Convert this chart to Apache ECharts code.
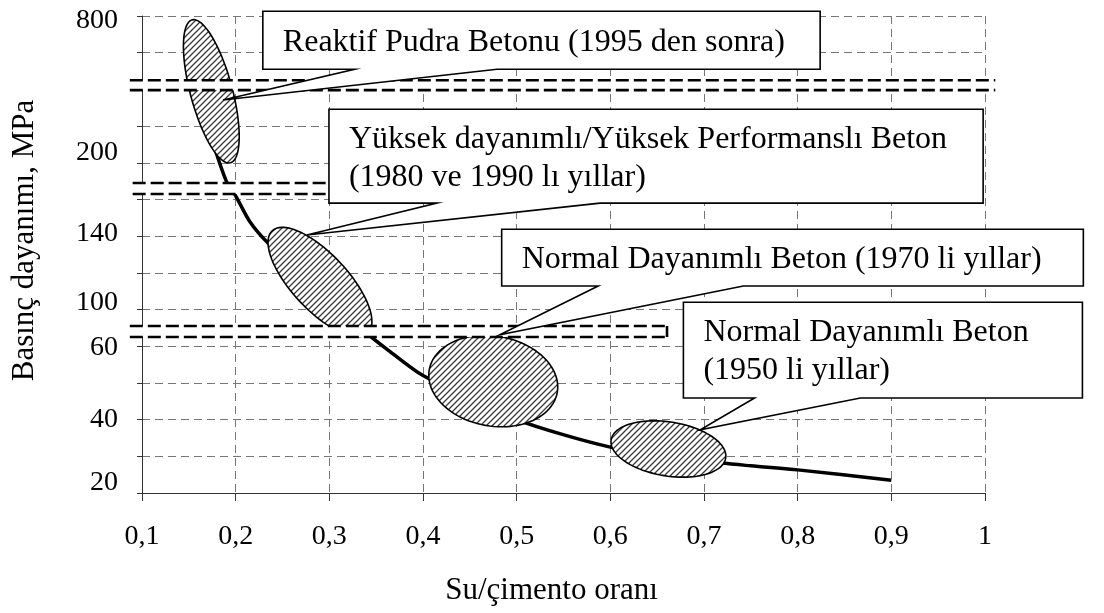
<!DOCTYPE html>
<html lang="tr">
<head>
<meta charset="utf-8">
<title>Su/çimento oranı - Basınç dayanımı</title>
<script src="https://cdn.jsdelivr.net/npm/echarts@6/dist/echarts.min.js"></script>
<style>
    html, body { margin: 0; padding: 0; background: #fff; }
    #chart { width: 1104px; height: 613px; }
</style>
</head>
<body>
<div id="chart"></div>
<script>
    // strength curve: water/cement ratio -> compressive strength (MPa)
    const wcRatio  = [0.175, 0.19, 0.2, 0.215, 0.235, 0.29, 0.345, 0.36, 0.4, 0.5, 0.6, 0.7, 0.75, 0.8, 0.9];
    const strength = [290, 180, 164, 148, 136, 110, 70, 59.5, 52, 40, 32.5, 28.7, 27.4, 26.3, 23.5];

    // y tick labels (MPa) shown on the broken axis
    const yTickValues = [20, 40, 60, 100, 140, 200, 800];

    // concrete classes: centre of each hatched region (w/c, MPa)
    const regionWc  = [0.174, 0.29, 0.475, 0.662];
    const regionMpa = [492, 115, 50.5, 32];

    const calloutText = [
        ['Reaktif Pudra Betonu (1995 den sonra)'],
        ['Yüksek dayanımlı/Yüksek Performanslı Beton', '(1980 ve 1990 lı yıllar)'],
        ['Normal Dayanımlı Beton (1970 li yıllar)'],
        ['Normal Dayanımlı Beton', '(1950 li yıllar)']
    ];

    // broken y axis: MPa range -> axis position (one unit = one grid row)
    const yBreaks = [[20, 60, 0, 4], [60, 100, 4, 5], [100, 160, 5, 8], [160, 200, 8, 9], [200, 800, 9, 13]];
    function toAxis(v) {
        for (const [a, b, p, q] of yBreaks) {
            if (v <= b) return p + (v - a) / (b - a) * (q - p);
        }
        return 13;
    }

    // layout of the drawing (axis units)
    const regionShape = [
        {rx: 21, ry: 74, rot: 15},
        {rx: 70, ry: 28, rot: -47},
        {rx: 65, ry: 45, rot: -10},
        {rx: 58, ry: 27, rot: -9}
    ];
    const breakBands = [
        {x1: 0.087, x2: 1.011, lo: 10.98, hi: 11.25, close: false},
        {x1: 0.090, x2: 0.300, lo: 8.15, hi: 8.45, close: false},
        {x1: 0.087, x2: 0.6605, lo: 4.25, hi: 4.55, close: true}
    ];
    const calloutLayout = [
        {box: [0.229, 13.13, 0.824, 11.55], base: [0.327, 0.479], tip: [0.1865, 10.71]},
        {box: [0.2996, 10.46, 0.998, 7.90], base: [0.415, 0.589], tip: [0.276, 7.03]},
        {box: [0.484, 7.19, 1.105, 5.64], base: [0.587, 0.742], tip: [0.482, 4.31]},
        {box: [0.678, 5.20, 1.104, 2.59], base: [0.754, 0.867], tip: [0.696, 1.72]}
    ];
    const labelShift = {20: -10, 40: 0, 60: 1, 100: -7, 140: -3, 200: -10, 800: 5};

    const serif = '"Liberation Serif", "Times New Roman", serif';

    function makeHatch() {
        const c = document.createElement('canvas');
        c.width = 6; c.height = 6;
        const g = c.getContext('2d');
        g.fillStyle = '#fff';
        g.fillRect(0, 0, 6, 6);
        g.strokeStyle = '#3a3a3a';
        g.lineWidth = 1.3;
        g.beginPath();
        g.moveTo(-1, 7); g.lineTo(7, -1);
        g.moveTo(-1, 1); g.lineTo(1, -1);
        g.moveTo(5, 7); g.lineTo(7, 5);
        g.stroke();
        return c;
    }
    const hatch = {image: makeHatch(), repeat: 'repeat'};

    function ellipsePoints(cx, cy, rx, ry, deg) {
        const t = deg * Math.PI / 180, c = Math.cos(t), s = Math.sin(t);
        const pts = [];
        for (let k = 0; k < 96; k++) {
            const a = k / 96 * Math.PI * 2;
            const x = rx * Math.cos(a), y = ry * Math.sin(a);
            pts.push([cx + x * c + y * s, cy - x * s + y * c]);
        }
        return pts;
    }

    const yRich = {};
    yTickValues.forEach(function (v, i) {
        const s = labelShift[v] || 0;
        yRich['t' + i] = {
            fontSize: 28, fontFamily: serif, color: '#000',
            padding: s < 0 ? [0, 0, -2 * s, 0] : [2 * s, 0, 0, 0]
        };
    });

    const chart = echarts.init(document.getElementById('chart'), null, {renderer: 'canvas'});
    const option = {
        backgroundColor: '#fff',
        animation: false,
        grid: {left: 142, right: 119, top: 16, bottom: 120, containLabel: false, outerBoundsMode: 'none'},
        xAxis: {
            type: 'value',
            min: 0.1,
            max: 1,
            interval: 0.1,
            name: 'Su/çimento oranı',
            nameLocation: 'middle',
            nameGap: 82,
            nameTextStyle: {fontSize: 31, fontFamily: serif, color: '#000', padding: [0, 24, 0, 0]},
            axisLine: {show: true, lineStyle: {color: '#333', width: 1}},
            axisTick: {show: true, length: 8, lineStyle: {color: '#333'}},
            axisLabel: {
                fontSize: 28, fontFamily: serif, color: '#000', margin: 30,
                formatter: function (v) {
                    return Math.abs(v - 1) < 1e-9 ? '1' : v.toFixed(1).replace('.', ',');
                }
            },
            splitLine: {show: true, lineStyle: {color: '#777', width: 1, type: [8, 5]}}
        },
        yAxis: {
            type: 'value',
            min: 0,
            max: 13,
            interval: 1,
            name: 'Basınç dayanımı, MPa',
            nameLocation: 'middle',
            nameGap: 102,
            nameTextStyle: {fontSize: 31, fontFamily: serif, color: '#000', padding: [0, 0, 0, 28]},
            axisLine: {show: true, lineStyle: {color: '#333', width: 1}},
            axisTick: {show: true, length: 5, lineStyle: {color: '#333'}},
            axisLabel: {
                margin: 24,
                formatter: function (u) {
                    for (let i = 0; i < yTickValues.length; i++) {
                        if (Math.abs(toAxis(yTickValues[i]) - u) < 1e-6) return '{t' + i + '|' + yTickValues[i] + '}';
                    }
                    return '';
                },
                rich: yRich
            },
            splitLine: {show: true, lineStyle: {color: '#777', width: 1, type: [8, 5]}}
        },
        series: [
            {
                type: 'line',
                z: 3,
                smooth: 0.25,
                symbol: 'none',
                lineStyle: {color: '#000', width: 3.5},
                data: wcRatio.map(function (x, i) { return [x, toAxis(strength[i])]; })
            },
            {
                type: 'custom',
                z: 4,
                silent: true,
                data: regionWc.map(function (x, i) { return [x, toAxis(regionMpa[i])]; }),
                renderItem: function (params, api) {
                    const p = api.coord([api.value(0), api.value(1)]);
                    const sh = regionShape[params.dataIndex];
                    return {
                        type: 'polygon',
                        shape: {points: ellipsePoints(p[0], p[1], sh.rx, sh.ry, sh.rot)},
                        style: {fill: hatch, stroke: '#000', lineWidth: 1.6}
                    };
                }
            },
            {
                type: 'custom',
                z: 5,
                silent: true,
                data: breakBands.map(function (b) { return [b.x1, b.lo]; }),
                renderItem: function (params, api) {
                    const b = breakBands[params.dataIndex];
                    const a = api.coord([b.x1, b.hi]);
                    const c = api.coord([b.x2, b.lo]);
                    const dash = {stroke: '#000', lineWidth: 2.6, lineDash: [13, 5]};
                    const kids = [
                        {type: 'rect', shape: {x: a[0], y: a[1], width: c[0] - a[0], height: c[1] - a[1]}, style: {fill: '#fff'}},
                        {type: 'line', shape: {x1: a[0], y1: a[1], x2: c[0], y2: a[1]}, style: dash},
                        {type: 'line', shape: {x1: a[0], y1: c[1], x2: c[0], y2: c[1]}, style: dash}
                    ];
                    if (b.close) {
                        kids.push({type: 'line', shape: {x1: c[0], y1: a[1], x2: c[0], y2: c[1]}, style: {stroke: '#000', lineWidth: 2.6}});
                    }
                    return {type: 'group', children: kids};
                }
            },
            {
                type: 'custom',
                z: 6,
                silent: true,
                data: calloutLayout.map(function (c) { return c.tip; }),
                renderItem: function (params, api) {
                    const c = calloutLayout[params.dataIndex];
                    const lines = calloutText[params.dataIndex];
                    const tl = api.coord([c.box[0], c.box[1]]);
                    const br = api.coord([c.box[2], c.box[3]]);
                    const b1 = api.coord([c.base[0], c.box[3]]);
                    const b2 = api.coord([c.base[1], c.box[3]]);
                    const tip = api.coord(c.tip);
                    const kids = [{
                        type: 'polygon',
                        shape: {points: [[tl[0], tl[1]], [br[0], tl[1]], [br[0], br[1]], [b2[0], br[1]], tip, [b1[0], br[1]], [tl[0], br[1]]]},
                        style: {fill: '#fff', stroke: '#000', lineWidth: 1.6}
                    }];
                    const lh = 38;
                    const mid = (tl[1] + br[1]) / 2 + 2;
                    lines.forEach(function (t, i) {
                        kids.push({
                            type: 'text',
                            style: {
                                text: t, x: tl[0] + 20, y: mid + (i - (lines.length - 1) / 2) * lh,
                                fill: '#000', fontSize: 32, fontFamily: serif,
                                align: 'left', verticalAlign: 'middle'
                            }
                        });
                    });
                    return {type: 'group', children: kids};
                }
            }
        ]
    };
    chart.setOption(option);
</script>
</body>
</html>
